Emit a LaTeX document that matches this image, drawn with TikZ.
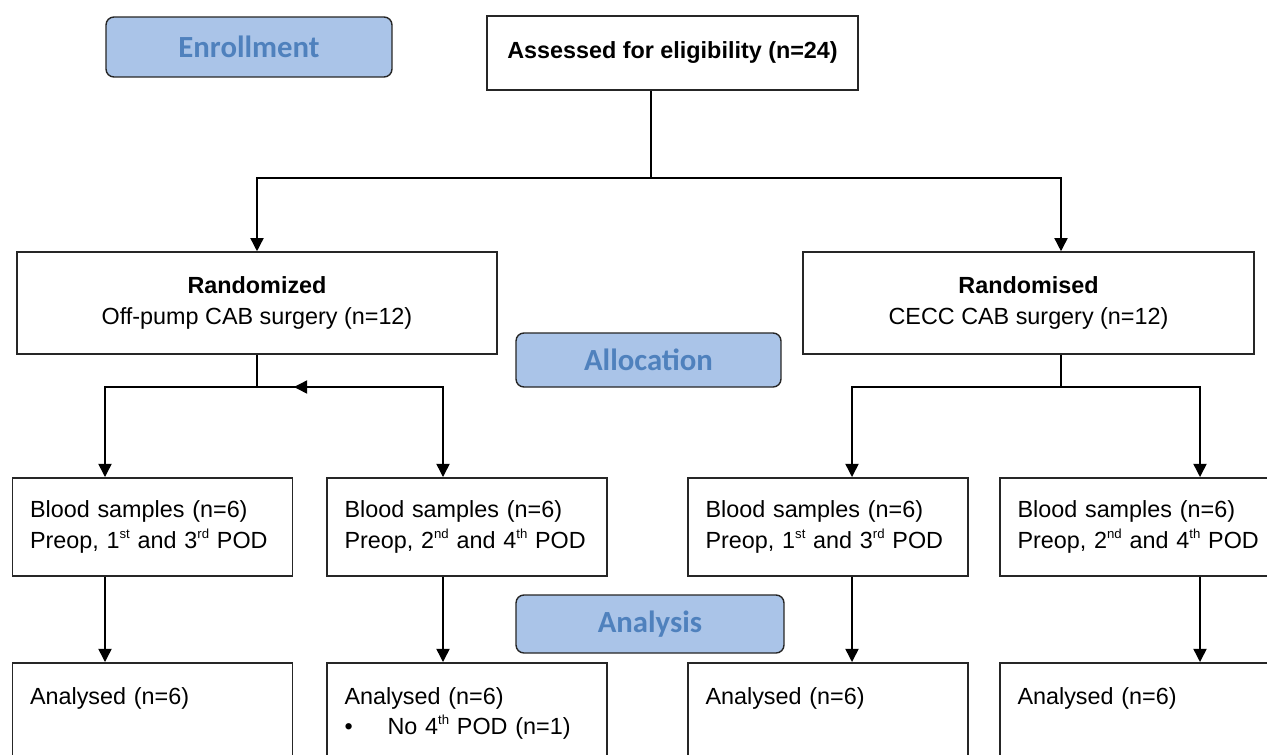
\documentclass[tikz,border=0pt]{standalone}
\usepackage{fontspec}
\setmainfont{Liberation Sans}
\newfontfamily\stagefont{Carlito}
\usetikzlibrary{calc}
\usetikzlibrary{positioning}
\usetikzlibrary{arrows.meta}
\definecolor{stagefill}{RGB}{170,196,232}
\definecolor{stagetext}{RGB}{79,129,189}
\newcommand{\ord}[1]{\raisebox{0.42em}{\fontsize{7.5}{7.5}\selectfont #1}}

\begin{document}
\begin{tikzpicture}[%
  x=0.02cm, y=-0.02cm,
  >={Triangle[length=7.5pt,width=7.5pt]},
  every node/.style={font=\fontsize{13.3}{17.4}\selectfont},
  stage/.style={draw=black!85, fill=stagefill, rounded corners=4.5pt,
    line width=0.8pt, text=stagetext,
    font=\stagefont\bfseries\fontsize{17.5}{20}\selectfont},
  box/.style={draw=black!85, line width=0.9pt},
  sample/.style={box, anchor=north, minimum width=5.6cm, minimum height=1.96cm,
    inner xsep=0.35cm, text width=4.9cm, align=left},
  result/.style={box, anchor=north, minimum width=5.6cm, inner xsep=0.35cm,
    text width=4.9cm, align=left, inner ysep=0.49cm, text depth=2.2cm},
  line width=0.85pt,
]

  \clip (0,0) rectangle (1267,754);
  \fill[white] (0,0) rectangle (1267,754);

  \node[stage, minimum width=5.72cm, minimum height=1.2cm] (enroll) at (249,47) {Enrollment};
  \node[box, minimum width=7.42cm, minimum height=1.48cm] (assess) at (672.5,53)
    {\textbf{Assessed for eligibility (n=24)}};

  \node[box, minimum width=9.6cm, minimum height=2.04cm, align=center] (randL) at (257,303)
    {\textbf{Randomized}\\Off-pump CAB surgery (n=12)};
  \node[box, minimum width=9.02cm, minimum height=2.04cm, align=center] (randR) at (1028.5,303)
    {\textbf{Randomised}\\CECC CAB surgery (n=12)};
  \node[stage, minimum width=5.3cm, minimum height=1.08cm] (alloc) at (648.5,360) {Allocation};

  \node[sample] (bs1) at (152.5,477) {Blood samples (n=6)\\Preop, 1\ord{st} and 3\ord{rd} POD};
  \node[sample] (bs2) at (467,477) {Blood samples (n=6)\\Preop, 2\ord{nd} and 4\ord{th} POD};
  \node[sample] (bs3) at (828,477) {Blood samples (n=6)\\Preop, 1\ord{st} and 3\ord{rd} POD};
  \node[sample] (bs4) at (1140,477) {Blood samples (n=6)\\Preop, 2\ord{nd} and 4\ord{th} POD};

  \node[stage, minimum width=5.36cm, minimum height=1.16cm] (analysis) at (650,624) {Analysis};

  \node[result] (an1) at (152.5,662) {Analysed (n=6)};
  \node[result] (an2) at (467,662) {Analysed (n=6)\\\makebox[0.86cm][l]{\textbullet}No 4\ord{th} POD (n=1)};
  \node[result] (an3) at (828,662) {Analysed (n=6)};
  \node[result] (an4) at (1140,662) {Analysed (n=6)};

  \coordinate (split) at (651,178);
  \coordinate (rcol) at (1061,178);
  \coordinate (la) at (105,387);
  \coordinate (lb) at (443,387);
  \coordinate (ra) at (852,387);
  \coordinate (rb) at (1200,387);
  \coordinate (tip) at (294,387);

  \draw (assess.south -| split) -- (split);
  \draw[->] (split) -| (randL.north);
  \draw[->] (split) -- (rcol) -- (randR.north -| rcol);

  \draw (randL.south) -- (randL.south |- la);
  \draw[->] (randL.south |- la) -- (la) -- (bs1.north -| la);
  \draw[->] (randL.south |- la) -- (lb) -- (bs2.north -| lb);
  \draw[->] (lb) -- (tip);

  \draw (randR.south -| rcol) -- (rcol |- ra);
  \draw[->] (rcol |- ra) -- (ra) -- (bs3.north -| ra);
  \draw[->] (rcol |- ra) -- (rb) -- (bs4.north -| rb);

  \foreach \c/\i in {la/1,lb/2,ra/3,rb/4}
    \draw[->] (bs\i.south -| \c) -- (an\i.north -| \c);

\end{tikzpicture}
\end{document}
